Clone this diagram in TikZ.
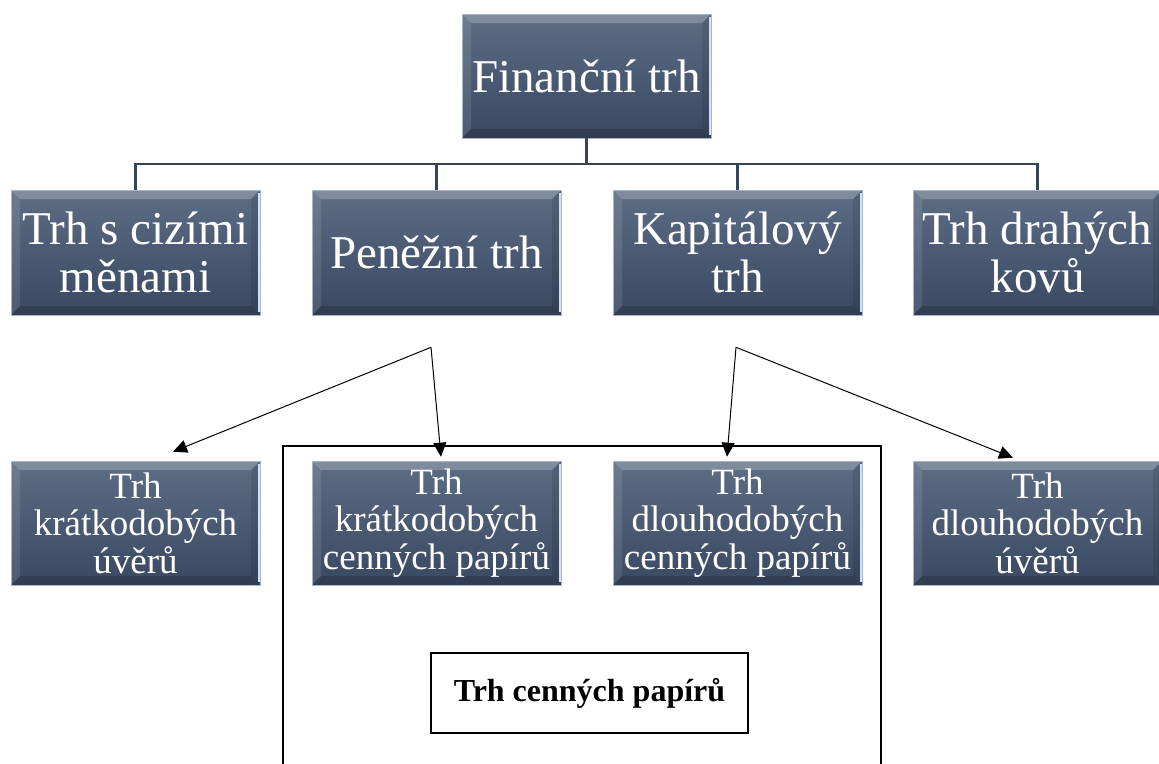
\documentclass[tikz,border=0pt]{standalone}
\usepackage{fontspec}
\setmainfont{Liberation Serif}
\usetikzlibrary{arrows.meta,calc}
\definecolor{boxtop}{HTML}{5D6D84}
\definecolor{boxbot}{HTML}{3A4862}
\definecolor{boxedge}{HTML}{A8B6C8}
\definecolor{edgehi}{HTML}{D2E2F6}
\definecolor{conncol}{HTML}{36465A}
\tikzset{
  bevbox/.style={rectangle, minimum width=249pt, minimum height=125pt, inner sep=0pt,
    text=white, align=center, top color=boxtop, bottom color=boxbot,
    draw=boxedge, line width=0.6pt,
    path picture={
      \fill[white,opacity=0.22] (path picture bounding box.north west) -- (path picture bounding box.north east)
        -- ([shift={(-9pt,-9pt)}]path picture bounding box.north east) -- ([shift={(9pt,-9pt)}]path picture bounding box.north west) -- cycle;
      \fill[white,opacity=0.10] (path picture bounding box.north west) -- ([shift={(9pt,-9pt)}]path picture bounding box.north west)
        -- ([shift={(9pt,9pt)}]path picture bounding box.south west) -- (path picture bounding box.south west) -- cycle;
      \fill[black,opacity=0.16] (path picture bounding box.south west) -- (path picture bounding box.south east)
        -- ([shift={(-9pt,9pt)}]path picture bounding box.south east) -- ([shift={(9pt,9pt)}]path picture bounding box.south west) -- cycle;
      \fill[black,opacity=0.10] (path picture bounding box.north east) -- (path picture bounding box.south east)
        -- ([shift={(-9pt,9pt)}]path picture bounding box.south east) -- ([shift={(-9pt,-9pt)}]path picture bounding box.north east) -- cycle;
      \draw[edgehi,line width=2pt] ([shift={(-1.5pt,-3pt)}]path picture bounding box.north east) -- ([shift={(-1.5pt,3pt)}]path picture bounding box.south east);
    }},
  bigtext/.style={font=\fontsize{47}{48}\selectfont},
  smalltext/.style={font=\fontsize{37}{37.5}\selectfont},
  conn/.style={draw=conncol, line width=2.2pt},
  arr/.style={draw=black, line width=1pt, -{Triangle[length=14pt,width=13pt]}},
  frame/.style={draw=black, line width=2.3pt},
  plainbox/.style={rectangle, draw=black, line width=1.2pt, minimum width=317pt, minimum height=80pt,
    inner sep=0pt, font=\fontsize{32}{34}\selectfont\bfseries}
}
\begin{document}
\begin{tikzpicture}[x=1pt,y=-1pt]
\useasboundingbox[fill=white] (0,0) rectangle (1159,763);

% top
\node[bevbox, bigtext, minimum height=124pt] (top) at (586.5,76) {Finanční trh};

% level 2
\node[bevbox, bigtext] (b1) at (135.5,252.5) {Trh s cizími\\měnami};
\node[bevbox, bigtext] (b2) at (436.5,252.5) {Peněžní trh};
\node[bevbox, bigtext] (b3) at (737.5,252.5) {Kapitálový\\trh};
\node[bevbox, bigtext] (b4) at (1037.5,252.5) {Trh drahých\\kovů};

\coordinate (bus) at (586.5,164);
\draw[conn] (top.south) -- (bus);
\draw[conn] (bus) -| (b1.north);
\draw[conn] (bus) -| (b2.north);
\draw[conn] (bus) -| (b3.north);
\draw[conn] (bus) -| (b4.north);

% frame
\coordinate (fbl) at (283,764);
\coordinate (fbr) at (881,764);
\draw[frame] (fbl) |- (881,446) -- (fbr);

% level 3
\node[bevbox, smalltext, minimum height=124pt] (l1) at (135.5,523) {Trh\\krátkodobých\\úvěrů};
\node[bevbox, smalltext, minimum height=124pt] (l2) at (436.5,523) {Trh\\krátkodobých\\cenných papírů};
\node[bevbox, smalltext, minimum height=124pt] (l3) at (737.5,523) {Trh\\dlouhodobých\\cenných papírů};
\node[bevbox, smalltext, minimum height=124pt] (l4) at (1037.5,523) {Trh\\dlouhodobých\\úvěrů};

% arrows
\coordinate (srcP) at ([xshift=-5.5pt,yshift=-32pt]b2.south);
\coordinate (srcK) at ([xshift=-1.5pt,yshift=-32pt]b3.south);
\draw[arr] (srcP) -- ([xshift=37.5pt,yshift=9pt]l1.north);
\draw[arr] (srcP) -- ([xshift=4.5pt,yshift=4pt]l2.north);
\draw[arr] (srcK) -- ([xshift=-10.5pt,yshift=4pt]l3.north);
\draw[arr] (srcK) -- ([xshift=-24.5pt,yshift=3pt]l4.north);

% bottom label
\node[plainbox] (tcp) at (589.5,693) {Trh cenných papírů};
\end{tikzpicture}
\end{document}
